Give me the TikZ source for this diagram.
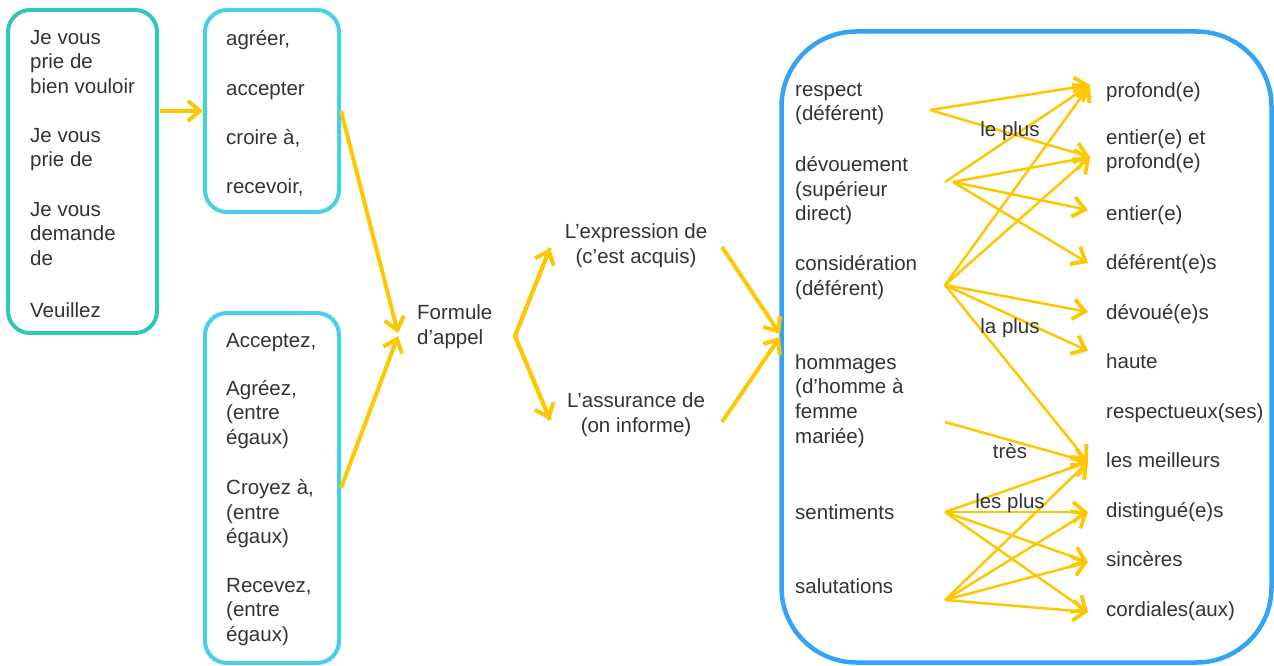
\documentclass[tikz,border=0pt]{standalone}
\usepackage{fontspec}
\setmainfont{Liberation Sans}
\usetikzlibrary{arrows.meta}
\definecolor{ylw}{RGB}{255,199,0}
\definecolor{tealc}{RGB}{46,200,180}
\definecolor{cyanc}{RGB}{72,208,230}
\definecolor{bluec}{RGB}{51,163,245}
\definecolor{txtc}{RGB}{51,51,51}
\begin{document}
\begin{tikzpicture}[x=1pt,y=-1pt,
  txt/.style={anchor=north west, inner sep=0pt, align=left, text=txtc,
    font=\fontsize{20.5}{24.6}\selectfont, yshift=17.22pt, execute at begin node=\strut},
  ctxt/.style={txt, anchor=north, align=center},
  lbl/.style={anchor=base, inner sep=0pt, text=txtc, font=\fontsize{20.5}{24.6}\selectfont},
  boxsh/.style={draw, line width=4pt, rounded corners=22pt, inner sep=0pt},
  bigarr/.style={draw=ylw, line width=4pt, -{Straight Barb[length=12pt,width=20pt,line width=4pt]}},
  thinarr/.style={draw=ylw, line width=2.5pt, -{Straight Barb[length=12pt,width=20pt,line width=3.8pt]}}]

\useasboundingbox (0,0) rectangle (1274,666);

% boxes
\node[boxsh, draw=tealc, minimum width=149pt, minimum height=323pt] (box1) at (82.5,171.5) {};
\node[boxsh, draw=cyanc, minimum width=134pt, minimum height=202pt] (box2) at (272,111) {};
\node[boxsh, draw=cyanc, minimum width=134pt, minimum height=350pt] (box3) at (272,488) {};
\node[boxsh, draw=bluec, line width=4.5pt, rounded corners=75pt, minimum width=490pt, minimum height=631pt] (box4) at (1026.5,347) {};

% box 1 texts
\node[txt] (b1a) at (30,47) {Je vous\\prie de\\bien vouloir};
\node[txt] (b1b) at (30,145) {Je vous\\prie de};
\node[txt] (b1c) at (30,219) {Je vous\\demande\\de};
\node[txt] (b1d) at (30,317) {Veuillez};

% box 2 texts
\node[txt] (b2a) at (226,45.5) {agréer,};
\node[txt] (b2b) at (226,95) {accepter};
\node[txt] (b2c) at (226,144.5) {croire à,};
\node[txt] (b2d) at (226,193.5) {recevoir,};

% box 3 texts
\node[txt] (b3a) at (226,347.5) {Acceptez,};
\node[txt] (b3b) at (226,397) {Agréez,\\(entre\\égaux)};
\node[txt] (b3c) at (226,496.5) {Croyez à,\\(entre\\égaux)};
\node[txt] (b3d) at (226,595) {Recevez,\\(entre\\égaux)};

% middle texts
\node[txt] (form) at (417,322) {Formule\\d’appel};
\node[ctxt] (expr) at (636,241) {L’expression de\\(c’est acquis)};
\node[ctxt] (assu) at (636,410) {L’assurance de\\(on informe)};

% big box left column
\node[txt] (nrsp) at (795,100) {respect\\(déférent)};
\node[txt] (ndev) at (795,173.5) {dévouement\\(supérieur\\direct)};
\node[txt] (ncon) at (795,272.5) {considération\\(déférent)};
\node[txt] (nhom) at (795,371.5) {hommages\\(d’homme à\\femme\\mariée)};
\node[txt] (nsen) at (795,519.5) {sentiments};
\node[txt] (nsal) at (795,593) {salutations};

% big box right column
\node[txt] (aprf) at (1106,97) {profond(e)};
\node[txt] (aenp) at (1106,146.5) {entier(e) et\\profond(e)};
\node[txt] (aent) at (1106,220.5) {entier(e)};
\node[txt] (adef) at (1106,269.5) {déférent(e)s};
\node[txt] (adev) at (1106,319.5) {dévoué(e)s};
\node[txt] (ahau) at (1106,368.5) {haute};
\node[txt] (ares) at (1106,418.5) {respectueux(ses)};
\node[txt] (amei) at (1106,467.5) {les meilleurs};
\node[txt] (adis) at (1106,517.5) {distingué(e)s};
\node[txt] (asin) at (1106,566.5) {sincères};
\node[txt] (acor) at (1106,616.5) {cordiales(aux)};

% coordinates for connectors
\coordinate (c1) at (160,111);
\coordinate (c2) at (203,111);
\coordinate (f1) at (398,333);
\coordinate (f2) at (398,336);
\coordinate (sp) at (515,336);
\coordinate (e1) at (550,248);
\coordinate (e2) at (550,420);
\coordinate (x1) at (722,247);
\coordinate (x2) at (722,422);
\coordinate (w1) at (780,334);
\coordinate (w2) at (780,337);

\coordinate (R) at (930,110);
\coordinate (D1) at (945,182);
\coordinate (D2) at (953,182);
\coordinate (C) at (945,285);
\coordinate (H) at (945,422);
\coordinate (S) at (945,512);
\coordinate (T) at (945,600);

\coordinate (t1) at (1090,85);
\coordinate (t2) at (1090,157);
\coordinate (t3) at (1088,210);
\coordinate (t4) at (1088,263);
\coordinate (t5) at (1088,312);
\coordinate (t6) at (1088,351);
\coordinate (t8) at (1088,462);
\coordinate (t9) at (1088,512);
\coordinate (t10) at (1088,562);
\coordinate (t11) at (1088,612);

% left connectors
\draw[bigarr] (c1) -- (c2);
\draw[bigarr] (box2.east) -- (f1);
\draw[bigarr] (box3.east) -- (f2);
\draw[draw=ylw, line width=4pt, line join=round] (e1) -- (sp) -- (e2);
\draw[bigarr] (sp) -- (e1);
\draw[bigarr] (sp) -- (e2);
\draw[bigarr] (x1) -- (w1);
\draw[bigarr] (x2) -- (w2);

% right connectors
\draw[thinarr] (R) -- (t1);
\draw[thinarr] (R) -- (t2);
\draw[thinarr] (D1) -- (t1);
\draw[thinarr] (D2) -- (t2);
\draw[thinarr] (D2) -- (t3);
\draw[thinarr] (D2) -- (t4);
\draw[thinarr] (C) -- (t1);
\draw[thinarr] (C) -- (t2);
\draw[thinarr] (C) -- (t5);
\draw[thinarr] (C) -- (t6);
\draw[thinarr] (C) -- (t8);
\draw[thinarr] (H) -- (t8);
\foreach \t in {t8,t9,t10,t11} {
  \draw[thinarr] (S) -- (\t);
  \draw[thinarr] (T) -- (\t);
}

% connector labels
\node[lbl] (lp1) at (1010,136) {le plus};
\node[lbl] (lp2) at (1010,333) {la plus};
\node[lbl] (lp3) at (1010,458) {très};
\node[lbl] (lp4) at (1010,508) {les plus};
\end{tikzpicture}
\end{document}
